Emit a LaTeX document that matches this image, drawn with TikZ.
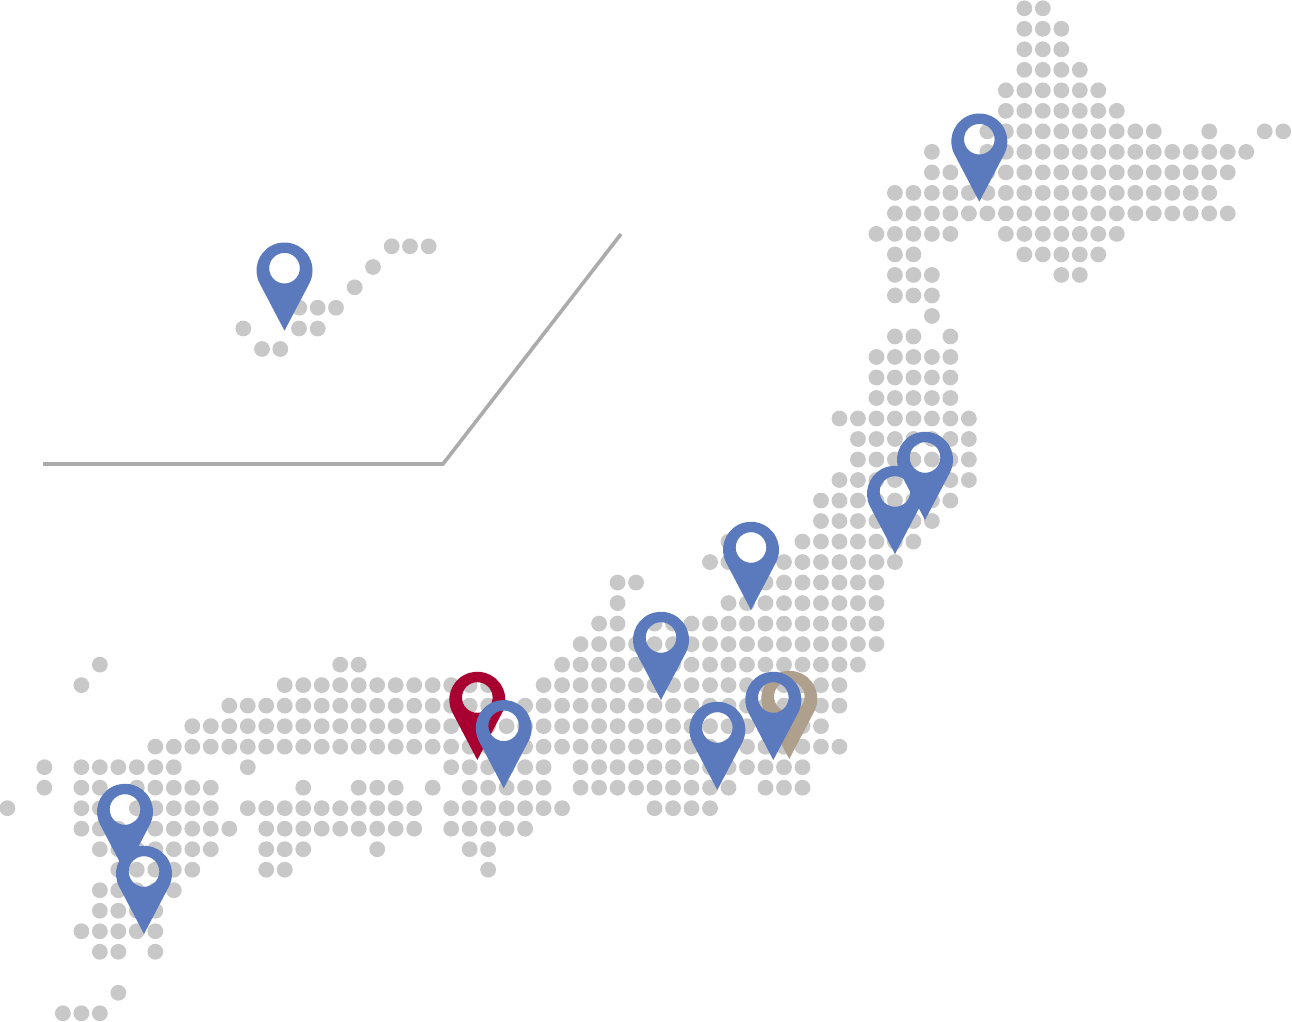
\documentclass[tikz,border=0pt]{standalone}
\usepackage{tikz}
\definecolor{dotgray}{HTML}{C8C8C8}
\definecolor{linegray}{HTML}{ABABAB}
\definecolor{pinblue}{HTML}{5A7ABD}
\definecolor{pinred}{HTML}{A80030}
\definecolor{pintan}{HTML}{AEA08C}
\tikzset{mapdot/.style={fill=dotgray}}
% one row of the dot grid: row number, then column numbers
\newcommand{\dotrow}[2]{\foreach \i in {#2}{\fill[mapdot] ({7.4+18.49*\i},{8.3+20.51*#1}) circle[radius=7.9];}}
% a pin: tip x, tip y, colour
\newcommand{\mappin}[3]{\fill[#3,even odd rule] (#1,#2) -- ++(-24.8,-47.3) arc[start angle=152.4,end angle=387.6,radius=28] -- cycle (#1,#2-62.5) circle[radius=15.3];}

\begin{document}
\begin{tikzpicture}[x=0.5pt,y=-0.5pt]
  \useasboundingbox (0,0) rectangle (1292,1022);
  \dotrow{0}{55,56}
  \dotrow{1}{55,56,57}
  \dotrow{2}{55,56,57}
  \dotrow{3}{55,56,57,58}
  \dotrow{4}{54,55,...,59}
  \dotrow{5}{54,55,...,60}
  \dotrow{6}{53,54,...,62,65,68,69}
  \dotrow{7}{50,53,54,...,67}
  \dotrow{8}{50,51,53,54,...,66}
  \dotrow{9}{48,49,...,65}
  \dotrow{10}{48,49,...,66}
  \dotrow{11}{47,48,49,50,51,54,55,...,60}
  \dotrow{12}{48,49,55,56,...,59}
  \dotrow{13}{48,49,50,57,58}
  \dotrow{14}{48,49,50}
  \dotrow{15}{50}
  \dotrow{16}{48,49,51}
  \dotrow{17}{47,48,...,51}
  \dotrow{18}{47,48,...,51}
  \dotrow{19}{47,48,...,51}
  \dotrow{20}{45,46,...,52}
  \dotrow{21}{46,47,...,52}
  \dotrow{22}{46,47,...,52}
  \dotrow{23}{45,46,...,52}
  \dotrow{24}{44,45,...,51}
  \dotrow{25}{44,45,...,50}
  \dotrow{26}{39,43,44,...,49}
  \dotrow{27}{38,39,42,43,...,48}
  \dotrow{28}{33,34,41,42,...,47}
  \dotrow{29}{33,39,40,...,47}
  \dotrow{30}{32,33,35,36,...,47}
  \dotrow{31}{31,32,...,47}
  \dotrow{32}{5,18,19,30,31,...,46}
  \dotrow{33}{4,15,16,...,26,29,30,...,45}
  \dotrow{34}{12,13,...,26,28,29,...,45}
  \dotrow{35}{10,11,...,44}
  \dotrow{36}{8,9,...,26,28,29,...,45}
  \dotrow{37}{2,4,5,...,9,13,24,25,...,29,31,32,...,43}
  \dotrow{38}{2,4,5,7,8,...,11,16,19,20,21,23,25,26,...,29,31,32,...,39,41,42,43}
  \dotrow{39}{0,4,5,7,8,...,11,13,14,...,22,24,25,...,30,35,36,37,38}
  \dotrow{40}{4,5,...,12,14,15,...,22,24,25,...,28}
  \dotrow{41}{5,6,...,11,14,15,16,20,25,26}
  \dotrow{42}{6,7,...,10,14,15,26}
  \dotrow{43}{5,6,...,9}
  \dotrow{44}{5,6,7,8}
  \dotrow{45}{4,5,6,7,8}
  \dotrow{46}{5,6,8}
  \dotrow{48}{6}
  \dotrow{49}{3,4,5}
  % the islands in the inset sit on their own grid
  \foreach \x/\y in {391.7/246.3,410/246.3,428.7/246.3,373/267,354.7/287.3,299.3/307.7,317.7/307.7,336/307.7,243.3/328.5,299/328.5,317.7/328.5,262/349,280.3/349}
    \fill[mapdot] (\x,\y) circle[radius=7.9];
  % inset border
  \coordinate (insetstart) at (43,464);
  \coordinate (insetbend) at (443,464);
  \coordinate (insetend) at (621,234);
  \draw[linegray,line width=1.8pt] (insetstart) -- (insetbend) -- (insetend);
  % pins
  \mappin{789.3}{759}{pintan}
  \mappin{477.3}{760}{pinred}
  \mappin{979.3}{201.7}{pinblue}
  \mappin{284.5}{330.7}{pinblue}
  \mappin{925}{520}{pinblue}
  \mappin{895}{554}{pinblue}
  \mappin{751}{610}{pinblue}
  \mappin{661}{700}{pinblue}
  \mappin{717.3}{790}{pinblue}
  \mappin{773.3}{760}{pinblue}
  \mappin{503.7}{788.3}{pinblue}
  \mappin{125}{872}{pinblue}
  \mappin{144}{934}{pinblue}
\end{tikzpicture}
\end{document}
